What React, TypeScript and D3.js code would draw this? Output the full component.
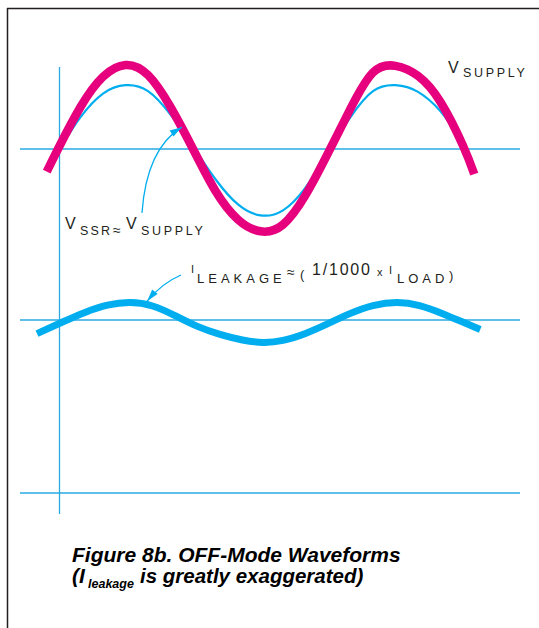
import React from "react";
import * as d3 from "d3";

// Phase in electrical degrees, values in relative units
const supplyPhase = [-15, 0, 30, 60, 90, 120, 150, 180, 210, 240, 270, 300, 330, 360, 390, 420, 450, 480, 510, 540, 555];
const supplyVolts = [-0.27, 0, 0.5, 0.86, 1.0, 0.88, 0.5, 0, -0.5, -0.84, -0.98, -0.9, -0.55, -0.05, 0.48, 0.91, 0.99, 0.87, 0.56, 0.04, -0.3];

const ssrPhase = [5, 30, 60, 90, 120, 150, 180, 210, 240, 270, 300, 330, 360, 390, 420, 450, 480, 510, 529];
const ssrVolts = [0.04, 0.38, 0.66, 0.76, 0.69, 0.41, 0.03, -0.36, -0.66, -0.79, -0.73, -0.46, -0.04, 0.38, 0.69, 0.76, 0.68, 0.45, 0.21];

const leakPhase = [-28, 6, 36, 66, 96, 126, 156, 186, 216, 246, 273, 300, 330, 360, 390, 420, 452, 482, 512, 542, 563];
const leakValue = [-0.68, -0.1, 0.38, 0.74, 0.87, 0.7, 0.22, -0.32, -0.72, -1.0, -1.12, -1.02, -0.67, -0.18, 0.33, 0.72, 0.87, 0.72, 0.33, -0.14, -0.47];

const TEXT = "#231F20";
const MAGENTA = "#E6007E";
const CYAN = "#00AEEF";
const LINE = "#29ABE2";
const FONT = "'Liberation Sans', Arial, Helvetica, sans-serif";

function arrowHead(tip: [number, number], from: [number, number], len = 12, half = 3.6) {
  const dx = tip[0] - from[0];
  const dy = tip[1] - from[1];
  const l = Math.hypot(dx, dy);
  const ux = dx / l, uy = dy / l;
  const bx = tip[0] - ux * len, by = tip[1] - uy * len;
  const nx = -uy, ny = ux;
  return `M${tip[0]},${tip[1]}L${bx + nx * half},${by + ny * half}L${bx - nx * half},${by - ny * half}Z`;
}

export default function App() {
  const x = d3.scaleLinear().domain([0, 540]).range([58, 463]);
  const yTop = d3.scaleLinear().domain([-1, 1]).range([233, 65]);
  const yLeak = d3.scaleLinear().domain([-1, 1]).range([340, 300]);
  const yLoad = d3.scaleLinear().domain([-1, 1]).range([513, 473]);

  const curve = d3.curveNatural;
  const supplyPath = d3.line<number>().x((_, i) => x(supplyPhase[i])).y((d) => yTop(d)).curve(curve)(supplyVolts) || "";
  const ssrPath = d3.line<number>().x((_, i) => x(ssrPhase[i])).y((d) => yTop(d)).curve(curve)(ssrVolts) || "";
  const leakPath = d3.line<number>().x((_, i) => x(leakPhase[i])).y((d) => yLeak(d)).curve(curve)(leakValue) || "";

  const plotLeft = 20, plotRight = 520, axisX = 59.5;

  // VSSR annotation arrow
  const a1Tail: [number, number] = [x(112), yTop(-0.76)];
  const a1Ctrl: [number, number] = [x(118), yTop(0.0)];
  const a1Tip: [number, number] = [x(165), yTop(0.26)];
  // Leakage annotation arrow
  const a2Tail: [number, number] = [x(164), yLeak(2.25)];
  const a2Ctrl: [number, number] = [x(139), yLeak(1.85)];
  const a2Tip: [number, number] = [x(119), yLeak(0.95)];

  const sub = { fontSize: 12.5, letterSpacing: 2.7 } as const;

  return (
    <svg width={539} height={628} style={{ position: "absolute", left: 0, top: 0, background: "#fff" }} fontFamily={FONT}>
      {/* frame */}
      <line x1={7} y1={8.5} x2={539} y2={8.5} stroke={TEXT} strokeWidth={1.5} />
      <line x1={7.5} y1={8} x2={7.5} y2={628} stroke={TEXT} strokeWidth={1.5} />

      {/* baselines and axis */}
      <line x1={plotLeft} x2={plotRight} y1={yTop(0)} y2={yTop(0)} stroke={LINE} strokeWidth={1.3} />
      <line x1={plotLeft} x2={plotRight} y1={yLeak(0)} y2={yLeak(0)} stroke={LINE} strokeWidth={1.3} />
      <line x1={plotLeft} x2={plotRight} y1={yLoad(0)} y2={yLoad(0)} stroke={LINE} strokeWidth={1.3} />
      <line x1={axisX} x2={axisX} y1={67} y2={514} stroke={LINE} strokeWidth={1.3} />

      {/* waveforms */}
      <path d={ssrPath} fill="none" stroke={CYAN} strokeWidth={2.2} />
      <path d={supplyPath} fill="none" stroke={MAGENTA} strokeWidth={8.5} />
      <path d={leakPath} fill="none" stroke={CYAN} strokeWidth={7} />

      {/* annotation arrows */}
      <path d={`M${a1Tail[0]},${a1Tail[1]}Q${a1Ctrl[0]},${a1Ctrl[1]} ${a1Tip[0]},${a1Tip[1]}`} fill="none" stroke={CYAN} strokeWidth={1.3} />
      <path d={arrowHead(a1Tip, a1Ctrl)} fill={CYAN} />
      <path d={`M${a2Tail[0]},${a2Tail[1]}Q${a2Ctrl[0]},${a2Ctrl[1]} ${a2Tip[0]},${a2Tip[1]}`} fill="none" stroke={CYAN} strokeWidth={1.3} />
      <path d={arrowHead(a2Tip, a2Ctrl)} fill={CYAN} />

      <g fill={TEXT}>
        {/* V SUPPLY */}
        <text x={448} y={73} fontSize={16}>V</text>
        <text x={463} y={77} {...sub}>SUPPLY</text>

        {/* V SSR ≈ V SUPPLY */}
        <text x={65} y={229} fontSize={16}>V</text>
        <text x={80} y={235} fontSize={12.5} letterSpacing={2.2}>SSR</text>
        <text x={113} y={235} fontSize={14}>≈</text>
        <text x={126} y={229} fontSize={16}>V</text>
        <text x={141} y={235} {...sub}>SUPPLY</text>

        {/* I LEAKAGE ≈ (1/1000 x I LOAD) */}
        <text x={191} y={273} fontSize={11}>I</text>
        <text x={197} y={283} fontSize={13} letterSpacing={4}>LEAKAGE</text>
        <text x={287} y={277} fontSize={14}>≈</text>
        <text x={300} y={279} fontSize={13}>(</text>
        <text x={312} y={275} fontSize={16} letterSpacing={1.8}>1/1000</text>
        <text x={377} y={276} fontSize={11}>x</text>
        <text x={389} y={274} fontSize={11}>I</text>
        <text x={397} y={283} fontSize={13} letterSpacing={4}>LOAD</text>
        <text x={449} y={280} fontSize={13}>)</text>
      </g>

      {/* caption */}
      <g fill="#000" fontWeight="bold" fontStyle="italic">
        <text x={72} y={562} fontSize={21}>Figure 8b. OFF-Mode Waveforms</text>
        <text x={72} y={583} fontSize={21}>(I</text>
        <text x={88} y={588} fontSize={12.5}>leakage</text>
        <text x={140} y={583} fontSize={20.5}>is greatly exaggerated)</text>
      </g>
    </svg>
  );
}
